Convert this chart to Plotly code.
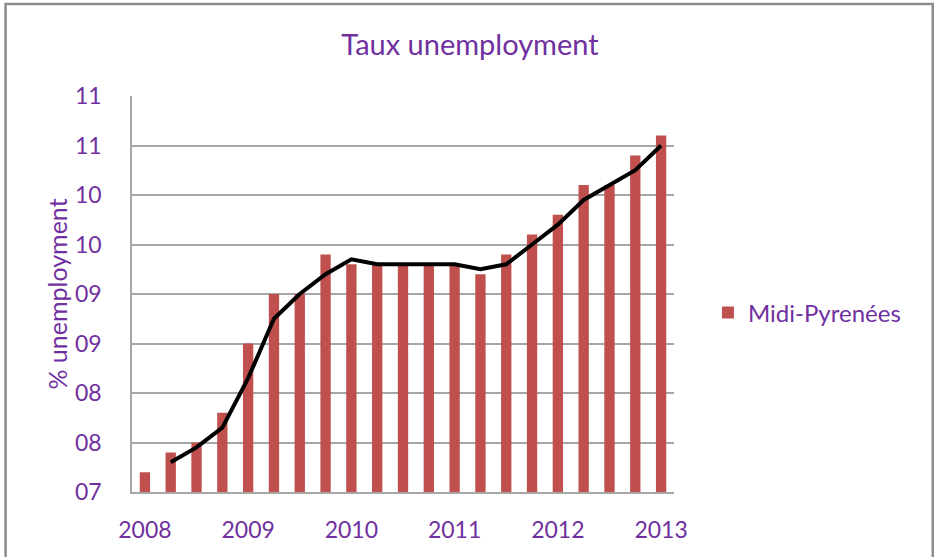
import plotly.graph_objects as go

# Quarterly unemployment rate, Midi-Pyrénées, 2008 Q1 – 2013 Q1
quarters = list(range(21))
rate = [7.2, 7.4, 7.5, 7.8, 8.5, 9.0, 9.0, 9.4, 9.3, 9.3, 9.3,
        9.3, 9.3, 9.2, 9.4, 9.6, 9.8, 10.1, 10.1, 10.4, 10.6]

# Two-period moving-average trend (starts at the second quarter)
trend_quarters = list(range(1, 21))
trend = [7.3, 7.45, 7.65, 8.15, 8.75, 9.0, 9.2, 9.35, 9.3, 9.3,
         9.3, 9.3, 9.25, 9.3, 9.5, 9.7, 9.95, 10.1, 10.25, 10.5]

year_ticks = [0, 4, 8, 12, 16, 20]
year_labels = ["2008", "2009", "2010", "2011", "2012", "2013"]

y_ticks = [7.0, 7.5, 8.0, 8.5, 9.0, 9.5, 10.0, 10.5, 11.0]
y_labels = ["07", "08", "08", "09", "09", "10", "10", "11", "11"]

PURPLE = "#7030A0"
FONT = "Lato, Carlito, Calibri, sans-serif"
W, H = 939, 557
L, R, T, B = 131.5, 265, 96, 65

fig = go.Figure()
fig.add_trace(go.Bar(
    x=quarters, y=rate, name="Midi-Pyrenées",
    marker=dict(color="#C0504D", line=dict(width=0)),
))
fig.add_trace(go.Scatter(
    x=trend_quarters, y=trend, mode="lines", showlegend=False,
    line=dict(color="#000000", width=4),
))

plot_w = W - L - R


def px_to_paper_x(px):
    return (px - L) / plot_w


fig.update_layout(
    width=W, height=H,
    margin=dict(l=L, r=R, t=T, b=B),
    paper_bgcolor="white", plot_bgcolor="white",
    font=dict(family=FONT, color=PURPLE, size=23),
    bargap=0.6,
    title=dict(text="Taux unemployment", x=470 / W, xanchor="center",
               y=1 - 45 / H, yanchor="middle",
               font=dict(size=29, color=PURPLE, family=FONT)),
    showlegend=True,
    legend=dict(x=px_to_paper_x(708), xanchor="left",
                y=(H - B - 313) / (H - T - B), yanchor="middle",
                font=dict(size=24, color=PURPLE, family=FONT),
                bgcolor="rgba(0,0,0,0)", itemwidth=30),
    xaxis=dict(
        range=[-0.5, 20.5], tickmode="array", tickvals=year_ticks,
        ticktext=year_labels, showgrid=False, zeroline=False,
        showline=True, linecolor="#A6A6A6", linewidth=1.5,
        ticks="", ticklabelstandoff=17,
        tickfont=dict(size=23, color=PURPLE, family=FONT),
    ),
    yaxis=dict(
        range=[7.0, 11.0], tickmode="array", tickvals=y_ticks,
        ticktext=y_labels, showgrid=True, gridcolor="#A6A6A6",
        gridwidth=1.5, zeroline=False, showline=True,
        linecolor="#A6A6A6", linewidth=1.5, ticks="",
        ticklabelstandoff=24,
        tickfont=dict(size=23, color=PURPLE, family=FONT),
        title=dict(text="% unemployment", standoff=0,
                   font=dict(size=25, color=PURPLE, family=FONT)),
    ),
    shapes=[dict(
        type="rect", xref="paper", yref="paper",
        x0=px_to_paper_x(5), x1=px_to_paper_x(933),
        y0=-(B + 10) / (H - T - B), y1=1 + (T - 4) / (H - T - B),
        line=dict(color="#8C8C8C", width=2.5), fillcolor="rgba(0,0,0,0)",
        layer="below",
    )],
)

fig.write_html("out.html")
